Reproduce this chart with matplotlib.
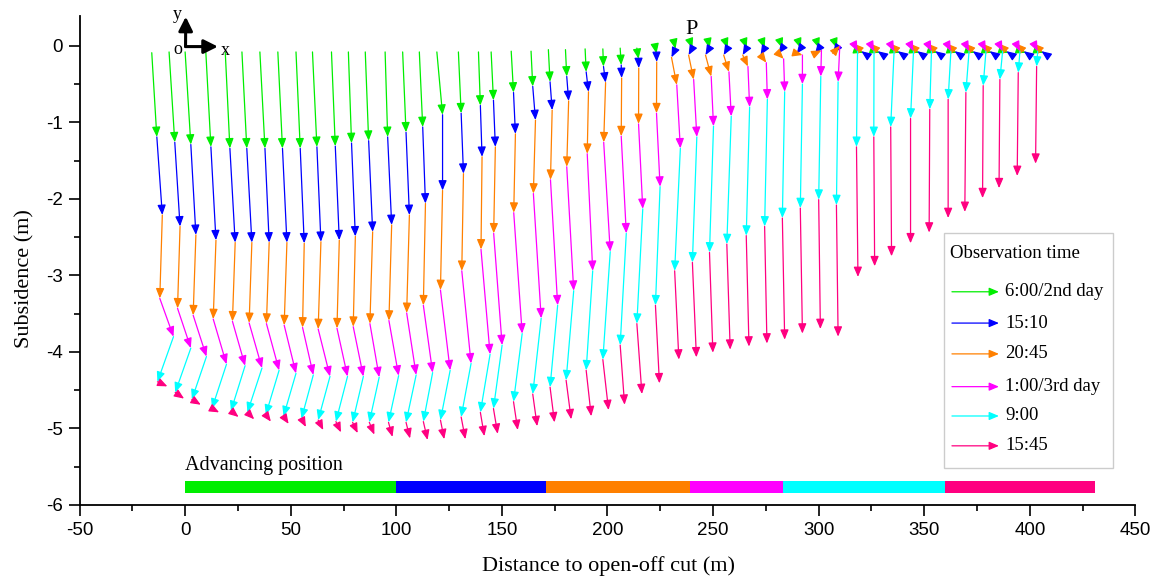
import numpy as np
import matplotlib.pyplot as plt

plt.rcParams['axes.unicode_minus'] = False

serif = 'Liberation Serif'
sans = 'Liberation Sans'

times = ['6:00/2nd day', '15:10', '20:45', '1:00/3rd day', '9:00', '15:45']
colors = ['#00ee00', '#0000ff', '#ff8000', '#ff00ff', '#00ffff', '#ff0080']

# advancing position of the face at each observation time (m)
adv_edges = [0, 100, 171, 239, 283, 360, 431]

# initial position of the surface points (m)
x0 = [-15.8, -7.6, 0.0, 9.8, 19.0, 26.9, 35.4, 43.9, 52.5, 60.3, 69.3, 77.3, 85.3, 94.7, 103.0, 110.9,
      119.2, 129.4, 138.9, 144.9, 154.4, 163.8, 172.0, 180.1, 189.4, 197.8, 206.0, 213.9, 222.6,
      231.8, 239.7, 248.0, 256.4, 265.4, 273.9, 282.3, 291.0, 299.7, 308.1,
      317.9, 325.7, 335.2, 344.4, 352.9, 362.1, 370.7, 378.7, 386.6, 394.8, 403.2]
y0 = [-0.09] + [-0.08] * 19 + [-0.07, -0.07, -0.05, -0.05, -0.04, -0.04, -0.03, -0.03, -0.01] + \
     [0.01] * 10 + [-0.06] * 11

# 6:00/2nd day
x1 = [-13.4, -4.9, 2.7, 12.2, 21.2, 29.2, 37.8, 46.1, 54.5, 62.4, 71.1, 78.8, 86.9, 95.9, 104.6, 112.5,
      121.9, 130.7, 139.8, 146.0, 155.5, 164.6, 172.8, 180.7, 189.9, 198.1, 206.5, 214.7, 223.2,
      232.2, 240.2, 248.3, 256.9, 265.9, 274.4, 282.8, 291.5, 300.2, 308.6,
      321.2, 329.0, 338.5, 347.7, 356.2, 365.4, 374.0, 382.0, 389.9, 398.1, 406.5]
y1 = [-1.19, -1.26, -1.29, -1.32, -1.34, -1.34, -1.34, -1.34, -1.34, -1.32, -1.31, -1.27, -1.24, -1.19, -1.13, -1.06,
      -0.90, -0.88, -0.78, -0.71, -0.61, -0.53, -0.47, -0.40, -0.34, -0.27, -0.25, -0.17, -0.10,
      -0.04] + [-0.03] * 9 + [-0.09] * 11

# 15:10
x2 = [-10.8, -2.4, 5.1, 14.6, 23.7, 31.6, 39.8, 48.2, 56.4, 64.3, 73.0, 80.6, 88.8, 97.8, 106.2, 113.8,
      121.9, 131.8, 140.6, 146.9, 156.4, 165.9, 173.8, 181.6, 191.0, 199.1, 206.7, 214.8, 223.3,
      230.3, 238.4, 246.4, 255.0, 264.0, 272.5, 280.9, 289.6, 298.3, 306.7,
      320.2, 328.0, 337.5, 346.7, 355.2, 364.4, 373.0, 381.0, 388.9, 397.1, 405.5]
y2 = [-2.21, -2.36, -2.47, -2.54, -2.57, -2.57, -2.57, -2.57, -2.58, -2.56, -2.54, -2.49, -2.43, -2.34, -2.21, -2.06,
      -1.89, -1.67, -1.45, -1.32, -1.15, -0.97, -0.84, -0.72, -0.60, -0.48, -0.42, -0.29, -0.21,
      -0.15, -0.12, -0.12, -0.12, -0.12, -0.12, -0.10, -0.10, -0.10, -0.10] + [-0.07] * 11

# 20:45
x3 = [-12.0, -3.6, 3.8, 13.3, 22.4, 30.3, 38.5, 46.9, 55.6, 63.0, 71.9, 79.6, 87.5, 96.5, 104.9, 112.8,
      120.9, 131.0, 140.1, 146.1, 155.6, 164.9, 173.0, 180.7, 190.4, 198.2, 206.5, 214.7, 223.2,
      232.8, 240.8, 249.1, 257.5, 266.5, 275.2, 283.4, 292.3, 301.3, 310.0,
      316.6, 324.4, 333.9, 343.1, 351.6, 360.8, 369.4, 377.4, 385.3, 393.5, 401.9]
y3 = [-3.30, -3.43, -3.52, -3.57, -3.60, -3.62, -3.63, -3.65, -3.68, -3.70, -3.69, -3.67, -3.63, -3.59, -3.49, -3.39,
      -3.19, -2.94, -2.66, -2.45, -2.18, -1.93, -1.75, -1.58, -1.41, -1.26, -1.18, -1.02, -0.88,
      -0.51, -0.44, -0.40, -0.34, -0.27, -0.22, -0.17, -0.12, -0.06, 0.00] + [0.03] * 11

# 1:00/3rd day
x4 = [-5.5, 2.7, 10.1, 19.6, 28.4, 36.4, 44.5, 52.5, 60.7, 68.6, 76.9, 84.4, 91.9, 101.1, 109.4, 117.2,
      125.5, 135.4, 144.4, 150.1, 159.6, 168.6, 176.4, 184.0, 193.0, 201.3, 208.9, 216.7, 224.9,
      234.5, 242.3, 250.2, 258.6, 267.3, 275.7, 283.9, 292.3, 301.0, 309.2,
      318.4, 326.2, 335.7, 344.9, 353.4, 362.6, 371.2, 379.2, 387.1, 395.3, 403.7]
y4 = [-3.80, -3.95, -4.06, -4.16, -4.18, -4.21, -4.24, -4.28, -4.30, -4.32, -4.32, -4.32, -4.33, -4.31, -4.30, -4.27,
      -4.24, -4.15, -4.03, -3.91, -3.76, -3.56, -3.39, -3.20, -2.94, -2.69, -2.45, -2.13, -1.84,
      -1.34, -1.19, -1.05, -0.92, -0.80, -0.70, -0.60, -0.50, -0.40, -0.47] + [-0.07] * 11

# 9:00
x5 = [-13.1, -4.7, 3.2, 12.7, 21.7, 29.5, 38.2, 46.6, 55.1, 63.0, 71.4, 79.3, 87.2, 96.3, 104.6, 112.8,
      120.9, 130.7, 139.8, 146.0, 155.5, 164.6, 172.8, 180.4, 189.9, 197.8, 206.0, 213.9, 222.7,
      231.8, 240.2, 248.3, 256.5, 265.7, 274.4, 282.8, 291.3, 300.0, 308.4,
      317.9, 326.1, 334.1, 343.5, 352.6, 361.3, 369.7, 377.9, 385.8, 394.5, 403.2]
y5 = [-4.39, -4.53, -4.62, -4.74, -4.77, -4.79, -4.82, -4.84, -4.87, -4.89, -4.91, -4.92, -4.92, -4.92, -4.92, -4.91,
      -4.89, -4.85, -4.79, -4.74, -4.65, -4.55, -4.46, -4.37, -4.24, -4.10, -3.91, -3.63, -3.39,
      -2.94, -2.83, -2.70, -2.59, -2.48, -2.36, -2.25, -2.12, -2.01, -2.08,
      -1.32, -1.19, -1.06, -0.95, -0.83, -0.70, -0.61, -0.52, -0.44, -0.35, -0.27]

# 15:45
x6 = [-8.4, -0.5, 7.4, 16.1, 25.3, 32.7, 40.6, 49.0, 57.2, 65.4, 73.8, 81.7, 89.6, 98.2, 106.5, 114.8,
      122.7, 132.7, 141.7, 148.0, 157.5, 166.7, 174.9, 182.8, 192.3, 200.5, 208.1, 216.3, 224.6,
      233.8, 242.1, 249.9, 258.1, 267.0, 275.5, 283.9, 292.3, 300.8, 309.2,
      318.6, 326.5, 334.5, 343.5, 352.3, 361.3, 369.2, 377.6, 385.4, 394.0, 402.7]
y6 = [-4.45, -4.61, -4.69, -4.79, -4.85, -4.88, -4.91, -4.94, -4.98, -5.02, -5.05, -5.06, -5.08, -5.11, -5.13, -5.15,
      -5.14, -5.14, -5.10, -5.07, -5.02, -4.97, -4.92, -4.88, -4.84, -4.76, -4.69, -4.55, -4.41,
      -4.10, -4.07, -4.01, -3.97, -3.93, -3.89, -3.84, -3.76, -3.70, -3.80,
      -3.02, -2.88, -2.75, -2.58, -2.44, -2.25, -2.17, -1.99, -1.86, -1.70, -1.54]

xs = [x0, x1, x2, x3, x4, x5, x6]
ys = [y0, y1, y2, y3, y4, y5, y6]

fig = plt.figure(figsize=(11.51, 5.83), dpi=100)
ax = fig.add_axes([0.0691, 0.1338, 0.9174, 0.8388])

head = '-|>,head_length=0.45,head_width=0.19'


def arrow(p, q, c, coords='data', lw=0.9, ms=13, style=head):
    ax.annotate('', xy=q, xytext=p, xycoords=coords, textcoords=coords,
                annotation_clip=False,
                arrowprops=dict(arrowstyle=style, color=c, lw=lw,
                                shrinkA=0, shrinkB=0, mutation_scale=ms))


for k in range(1, 7):
    for i in range(len(x0)):
        arrow((xs[k - 1][i], ys[k - 1][i]), (xs[k][i], ys[k][i]), colors[k - 1])

# advancing position bar
lefts = adv_edges[:-1]
widths = np.diff(adv_edges)
ax.barh(-5.765, widths, left=lefts, height=0.155, color=colors, zorder=1)
ax.text(0, -5.49, 'Advancing position', fontsize=14.5, family=serif, ha='left', va='center')

# coordinate sketch
arrow((0.2, -0.01), (0.3, 0.38), 'black', lw=2.2, ms=14, style='-|>,head_length=0.6,head_width=0.3')
arrow((0.2, -0.01), (15.5, -0.01), 'black', lw=2.2, ms=14, style='-|>,head_length=0.6,head_width=0.3')
ax.text(-3.9, 0.405, 'y', fontsize=13, family=serif, ha='center', va='center', clip_on=False)
ax.text(-3.3, -0.05, 'o', fontsize=13, family=serif, ha='center', va='center')
ax.text(19.0, -0.06, 'x', fontsize=13, family=serif, ha='center', va='center')
ax.text(239.8, 0.21, 'P', fontsize=16, family=serif, ha='center', va='center')

# legend
ax.add_patch(plt.Rectangle((0.8187, 0.0757), 0.160, 0.4805, transform=ax.transAxes,
                           facecolor='white', edgecolor='#cccccc', lw=1.0, zorder=5))
ax.text(0.8243, 0.5133, 'Observation time', transform=ax.transAxes, fontsize=13.5,
        family=serif, ha='left', va='center', zorder=6)
leg_y = [0.436, 0.372, 0.309, 0.242, 0.182, 0.121]
for c, t, yy in zip(colors, times, leg_y):
    ax.annotate('', xy=(0.8707, yy), xytext=(0.8262, yy), xycoords='axes fraction',
                annotation_clip=False, zorder=6,
                arrowprops=dict(arrowstyle=head, color=c, lw=0.9, shrinkA=0, shrinkB=0,
                                mutation_scale=13))
    ax.text(0.8765, yy, t, transform=ax.transAxes, fontsize=13.5, family=serif,
            ha='left', va='center', zorder=6)

ax.set_xlim(-50, 450)
ax.set_ylim(-6, 0.39)
ax.set_xticks(np.arange(-50, 451, 50))
ax.set_xticks(np.arange(-25, 450, 50), minor=True)
ax.set_yticks(np.arange(-6, 0.1, 1))
ax.set_yticks(np.arange(-5.5, 0.1, 1), minor=True)
ax.set_yticklabels([f'{int(v)}' for v in np.arange(-6, 0.1, 1)])
for s in ['top', 'right']:
    ax.spines[s].set_visible(False)
for s in ['left', 'bottom']:
    ax.spines[s].set_linewidth(1.3)
ax.tick_params(which='major', direction='out', length=8, width=1.2, labelsize=13.5, pad=4)
ax.tick_params(which='minor', direction='out', length=4, width=1.2)
for lab in ax.get_xticklabels() + ax.get_yticklabels():
    lab.set_family(sans)

ax.set_xlabel('Distance to open-off cut (m)', fontsize=16, family=serif)
ax.set_ylabel('Subsidence (m)', fontsize=16, family=serif)
ax.xaxis.set_label_coords(0.5005, -0.104)
ax.yaxis.set_label_coords(-0.043, 0.464)

fig.savefig('out.png', dpi=100)
